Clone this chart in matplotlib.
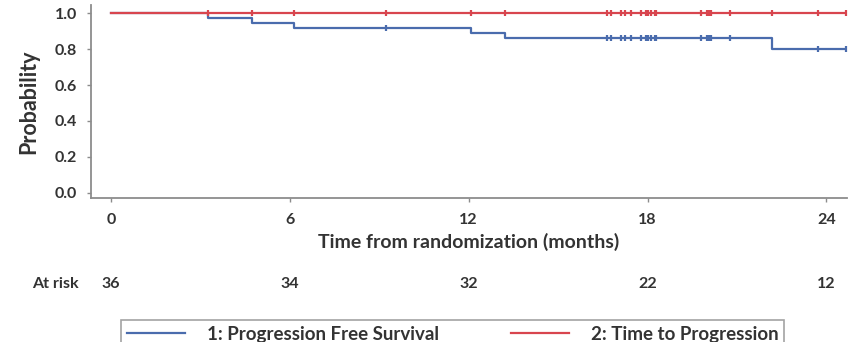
import matplotlib
matplotlib.use("Agg")
import matplotlib.pyplot as plt
import matplotlib.transforms as mtransforms
from matplotlib.lines import Line2D

plt.rcParams["font.family"] = ["Lato", "DejaVu Sans"]
plt.rcParams["font.weight"] = "bold"

# ── data ────────────────────────────────────────────────────────────────────
pfs_times = [0, 3.26, 4.73, 6.14, 12.08, 13.22, 22.19, 24.68]
pfs_surv = [1.0, 0.972, 0.944, 0.917, 0.888, 0.860, 0.799, 0.799]
pfs_censor_t = [9.23, 16.63, 16.77, 17.11, 17.25, 17.45, 17.79, 17.95, 18.03,
                18.11, 18.26, 18.29, 19.79, 19.99, 20.07, 20.12, 20.77,
                23.73, 24.66]
pfs_censor_s = [0.917] + [0.860] * 16 + [0.799, 0.799]

ttp_times = [0, 24.68]
ttp_surv = [1.0, 1.0]
ttp_censor_t = [3.26, 4.73, 6.14, 9.23, 12.08, 13.22, 16.63, 16.77, 17.11,
                17.25, 17.45, 17.79, 17.95, 18.03, 18.11, 18.26, 18.29, 19.79,
                19.99, 20.07, 20.12, 20.77, 22.19, 23.73, 24.66]

risk_months = [0, 6, 12, 18, 24]
at_risk = [36, 34, 32, 22, 12]

BLUE = "#4a6cad"
RED = "#d8454e"
GREY = "#8c8c8c"
TXT = "#333333"

fig = plt.figure(figsize=(8.5, 3.42), dpi=100)
ax = fig.add_axes([0.1067, 0.4219, 0.8894, 0.5635])

ax.step(pfs_times, pfs_surv, where="post", color=BLUE, lw=1.6)
ax.plot(pfs_censor_t, pfs_censor_s, ls="none", marker="|", ms=5,
        mew=1.6, color=BLUE)
ax.step(ttp_times, ttp_surv, where="post", color=RED, lw=1.6)
ax.plot(ttp_censor_t, [1.0] * len(ttp_censor_t), ls="none", marker="|",
        ms=5, mew=1.6, color=RED)

ax.set_xlim(-0.68, 24.68)
ax.set_ylim(-0.028, 1.046)
ax.set_xticks(risk_months)
ax.set_yticks([0, 0.2, 0.4, 0.6, 0.8, 1.0])
ax.yaxis.set_major_formatter(matplotlib.ticker.FormatStrFormatter("%.1f"))

for s in ["top", "right"]:
    ax.spines[s].set_visible(False)
for s in ["left", "bottom"]:
    ax.spines[s].set_color(GREY)
    ax.spines[s].set_linewidth(1.3)

ax.tick_params(axis="both", colors=GREY, labelcolor=TXT, labelsize=11.5,
               width=1, length=3)
ax.tick_params(axis="y", pad=7)
ax.tick_params(axis="x", pad=8)

ax.set_ylabel("Probability", fontsize=15.5, fontweight="bold",
              color=TXT, labelpad=11)
ax.set_xlabel("Time from randomization (months)", fontsize=14,
              fontweight="bold", color=TXT, labelpad=4)

# number-at-risk row
trans = mtransforms.blended_transform_factory(ax.transData, fig.transFigure)
fig.text(55 / 850, 1 - 284 / 342, "At risk", ha="center", va="center",
         fontsize=11.5, fontweight="bold", color=TXT)
for m, n in zip(risk_months, at_risk):
    ax.text(m, 1 - 284 / 342, str(n), transform=trans, ha="center",
            va="center", fontsize=11.5, fontweight="bold", color=TXT)

handles = [Line2D([], [], color=BLUE, lw=1.6), Line2D([], [], color=RED, lw=1.6)]
leg = fig.legend(handles, ["1: Progression Free Survival", "2: Time to Progression"],
                 loc="upper left", bbox_to_anchor=(121 / 850, 1 - 320 / 342),
                 ncol=2, frameon=True, fancybox=False, fontsize=13.5,
                 handlelength=3.1, handletextpad=1.2, columnspacing=3.8,
                 borderpad=0.3, borderaxespad=0)
leg.get_frame().set_edgecolor(GREY)
leg.get_frame().set_linewidth(1.2)
for t in leg.get_texts():
    t.set_color(TXT)
    t.set_fontweight("bold")

fig.savefig("out.png", dpi=100)
